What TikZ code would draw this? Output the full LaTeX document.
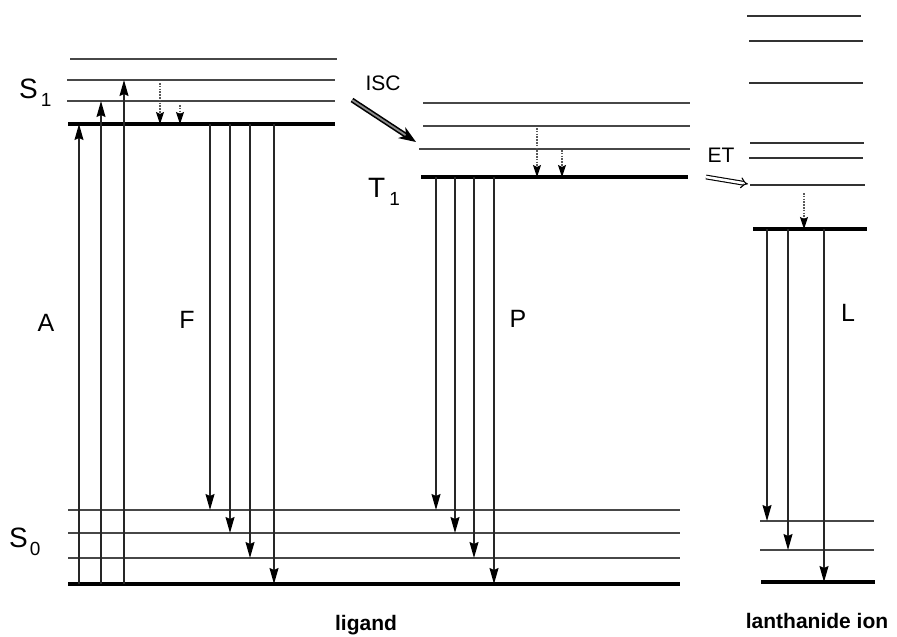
\documentclass[tikz,border=0pt]{standalone}
\usepackage{fontspec}
\setmainfont{Liberation Sans}
\usetikzlibrary{arrows.meta}
\tikzset{
  lvthin/.style={line width=1.5pt, black!72},
  lvmid/.style={line width=2pt, black!80},
  lvthick/.style={line width=3.2pt, black},
  trans/.style={line width=1.3pt, black!85, -{Stealth[length=16pt,width=9pt,inset=2pt,black]}},
  relax/.style={line width=1.1pt, black!65, dash pattern=on 1.6pt off 1.2pt, -{Stealth[length=12pt,width=8pt,inset=2pt,black]}},
  biglabel/.style={inner sep=0pt, font=\fontsize{28}{32}\selectfont, anchor=base west},
  letter/.style={inner sep=0pt, font=\fontsize{25}{30}\selectfont},
  small/.style={inner sep=0pt, font=\fontsize{21}{25}\selectfont},
  caption/.style={inner sep=0pt, font=\bfseries\fontsize{21}{25}\selectfont}
}
\newcommand{\mysub}[1]{\raisebox{-8pt}{\fontsize{19}{22}\selectfont #1}}
\begin{document}
\begin{tikzpicture}[x=1pt,y=-1pt]
\useasboundingbox (0,0) rectangle (897,637);

% ---- levels: name / x1 / x2 / y / style
\foreach \n/\a/\b/\y/\s in {
  s1a/70/337/59/lvthin, s1b/67/335/80/lvthin, s1c/67/335/101/lvthin, s1/68/335/124/lvthick,
  t1a/423/690/103/lvthin, t1b/423/690/126/lvthin, t1c/419/690/149/lvthin, t1/421/688/177/lvthick,
  s0a/68/680/510/lvthin, s0b/68/680/533/lvthin, s0c/68/680/558/lvthin, s0/68/680/584/lvthick,
  la1/747/861/16/lvmid, la2/749/863/41/lvmid, la3/749/863/83/lvmid, la4/750/864/143/lvmid,
  la5/749/863/158/lvmid, la6/750/865/185/lvmid, lg/753/867/229/lvthick,
  lb1/760/874/521/lvthin, lb2/760/874/550/lvthin, l0/761/875/582/lvthick}
{
  \coordinate (\n) at (\a,\y);
  \coordinate (\n-e) at (\b,\y);
  \draw[\s] (\n) -- (\n-e);
}

% ---- absorption (up)
\foreach \x/\f/\t in {79/s0/s1, 101/s0/s1c, 124/s0/s1b}
  \draw[trans] (\x,0 |- \f) -- (\x,0 |- \t);

% ---- fluorescence, phosphorescence, luminescence (down)
\foreach \x/\f/\t in {210/s1/s0a, 230/s1/s0b, 250/s1/s0c, 274/s1/s0,
                      436/t1/s0a, 455/t1/s0b, 474/t1/s0c, 494/t1/s0,
                      767/lg/lb1, 788/lg/lb2, 824/lg/l0}
  \draw[trans] (\x,0 |- \f) -- (\x,0 |- \t);

% ---- vibrational relaxation (dotted)
\coordinate (r1) at (160,83);
\coordinate (r2) at (180,105);
\coordinate (r3) at (537,128);
\coordinate (r4) at (562,150);
\coordinate (r5) at (804,193);
\draw[relax] (r1) -- (r1 |- s1);
\draw[relax] (r2) -- (r2 |- s1);
\draw[relax] (r3) -- (r3 |- t1);
\draw[relax] (r4) -- (r4 |- t1);
\draw[relax] (r5) -- (r5 |- lg);

% ---- ISC and ET arrows
\coordinate (iscA) at (352,100);
\coordinate (iscB) at (416,142);
\draw[line width=1.6pt, black, double=black!45, double distance=1.8pt,
      -{Stealth[length=17pt,width=13pt,inset=5pt,black]}] (iscA) -- (iscB);
\coordinate (etA) at (706,177);
\coordinate (etB) at (748,184);
\draw[line width=1.1pt, black, double=white, double distance=2.6pt,
      -{Implies[length=9pt,width=13pt]}] (etA) -- (etB);

% ---- labels
\node[biglabel] (lS1) at (19,98) {S\hspace{3pt}\mysub{1}};
\node[biglabel] (lS0) at (9,547) {S\hspace{2pt}\mysub{0}};
\node[biglabel] (lT1) at (368,197) {T\hspace{4pt}\mysub{1}};
\node[letter] (lA) at (46,323) {A};
\node[letter] (lF) at (187,320) {F};
\node[letter] (lP) at (518,319) {P};
\node[letter] (lL) at (848,313) {L};
\node[small] (lISC) at (383,83) {ISC};
\node[small] (lET) at (721,155) {ET};
\node[caption] (lig) at (366,625) {ligand};
\node[caption] (lan) at (817,621) {lanthanide ion};
\end{tikzpicture}
\end{document}
